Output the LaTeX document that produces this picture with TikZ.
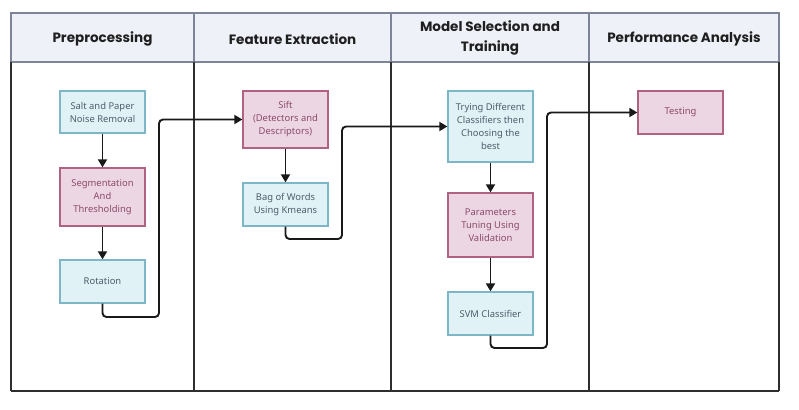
\documentclass[tikz,border=0pt]{standalone}
\usepackage{fontspec}
\setmainfont{Noto Sans}
\newfontfamily\headfont{Poppins}
\usetikzlibrary{arrows.meta}
\definecolor{hfill}{HTML}{EEF1F8}
\definecolor{hline}{HTML}{7E8598}
\definecolor{lane}{HTML}{2E2E2E}
\definecolor{bfill}{HTML}{E0F2F5}
\definecolor{bline}{HTML}{7DB6C6}
\definecolor{btext}{HTML}{4E5E6C}
\definecolor{pfill}{HTML}{EDD6E4}
\definecolor{pline}{HTML}{B06283}
\definecolor{ptext}{HTML}{8A4A6B}
\tikzset{
  bluebox/.style={draw=bline, fill=bfill, text=btext, line width=1.3pt, minimum width=85pt, inner sep=0pt, align=center, font=\fontsize{9.4}{13}\selectfont},
  pinkbox/.style={draw=pline, fill=pfill, text=ptext, line width=1.3pt, minimum width=85pt, inner sep=0pt, align=center, font=\fontsize{9.4}{13}\selectfont},
  headtext/.style={font=\headfont\bfseries\fontsize{13.5}{20}\selectfont, text=black!88, align=center, inner sep=0pt},
  conn/.style={draw=black!90, line width=1.9pt, rounded corners=4pt, -{Triangle[length=8pt,width=9pt]}},
  plainconn/.style={draw=black!90, line width=1.9pt, -{Triangle[length=8pt,width=9pt]}}
}
\begin{document}
\begin{tikzpicture}[x=1pt,y=-1pt]
\useasboundingbox[fill=white] (0,0) rectangle (799,409);
% header
\draw[fill=hfill, draw=hline, line width=1.4pt] (11,13) rectangle (779,62);
\foreach \xx in {194,391,589} \draw[hline, line width=1.4pt] (\xx,13) -- (\xx,62);
% lanes
\foreach \xx in {11,194,391,589,779} \draw[lane, line width=1.2pt] (\xx,62) -- (\xx,391);
\draw[lane, line width=1.2pt] (11,391) -- (779,391);
% header texts
\node[headtext] (h1) at (102.5,39) {Preprocessing};
\node[headtext] (h2) at (292.5,39) {Feature Extraction};
\node[headtext] (h3) at (490,38) {Model Selection and\\Training};
\node[headtext] (h4) at (684,39) {Performance Analysis};
% boxes
\node[bluebox, minimum height=42pt] (sap) at (102.5,112) {Salt and Paper\\Noise Removal};
\node[pinkbox, minimum height=58pt] (seg) at (102.5,197) {Segmentation\\And\\Thresholding};
\node[bluebox, minimum height=43pt] (rot) at (102.5,281.5) {Rotation};
\node[pinkbox, minimum height=57pt] (sift) at (285.5,119.5) {Sift\\(Detectors and\\Descriptors)};
\node[bluebox, minimum height=43pt] (bow) at (285.5,204.5) {Bag of Words\\Using Kmeans};
\node[bluebox, minimum height=71pt] (try) at (490.5,126.5) {Trying Different\\Classifiers then\\Choosing the\\best};
\node[pinkbox, minimum height=64pt] (par) at (490.5,225) {Parameters\\Tuning Using\\Validation};
\node[bluebox, minimum height=43pt] (svm) at (490.5,313.5) {SVM Classifier};
\node[pinkbox, minimum height=43pt] (test) at (680.5,112.5) {Testing};
% junctions
\coordinate (j1) at (159,317);
\coordinate (j2) at (342,239);
\coordinate (j3) at (547,348);
% connectors
\draw[plainconn] (sap) -- (seg);
\draw[plainconn] (seg) -- (rot);
\draw[plainconn] (sift) -- (bow);
\draw[plainconn] (try) -- (par);
\draw[plainconn] (par) -- (svm);
\draw[conn] (rot.south) |- (j1) |- (sift.west);
\draw[conn] (bow.south) |- (j2) |- (try.west);
\draw[conn] (svm.south) |- (j3) |- (test.west);
\end{tikzpicture}
\end{document}
